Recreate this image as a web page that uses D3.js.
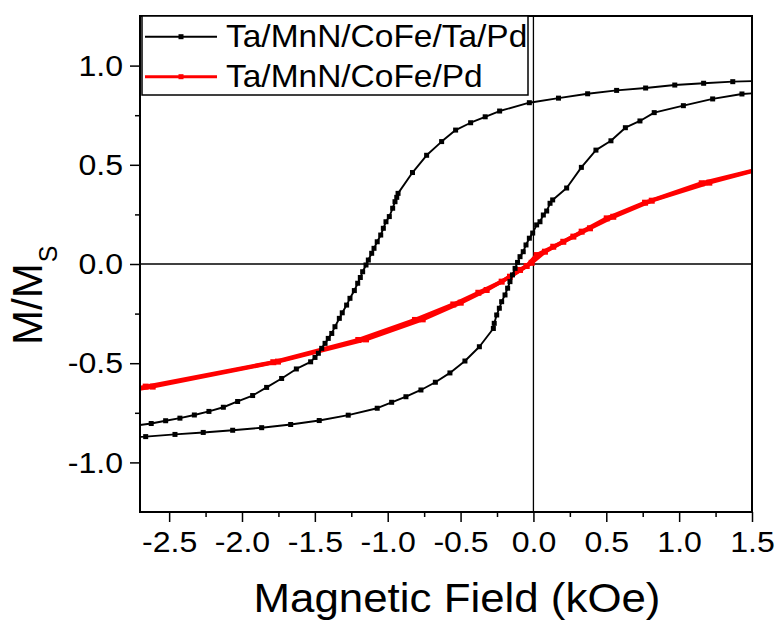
<!DOCTYPE html>
<html><head>
<meta charset="utf-8">
<title>M/Ms loops</title>
<script src="https://d3js.org/d3.v7.min.js"></script>
<style>
  body { margin: 0; background: #fff; }
  svg text { font-family: "Liberation Sans", Arial, sans-serif; fill: #000; }
  .axis .domain { display: none; }
  .axis line { stroke: #000; stroke-width: 1.5px; }
</style>
</head>
<body>
<svg id="chart" width="776" height="620"></svg>
<script>

// hysteresis data, [field (kOe), M/Ms]
// black sample: descending branch (upper) and ascending branch (lower)
const upperBranch = [
  [1.57, 0.923], [1.368, 0.919], [1.168, 0.911], [0.970, 0.902], [0.770, 0.887],
  [0.571, 0.875], [0.372, 0.858], [0.172, 0.836], [-0.028, 0.813], [-0.232, 0.771],
  [-0.331, 0.742], [-0.431, 0.712], [-0.534, 0.675], [-0.630, 0.617], [-0.733, 0.548],
  [-0.830, 0.461], [-0.929, 0.356], [-0.938, 0.336], [-0.950, 0.314], [-0.966, 0.281],
  [-0.989, 0.239], [-1.012, 0.213], [-1.030, 0.180], [-1.048, 0.146], [-1.072, 0.112],
  [-1.094, 0.079], [-1.110, 0.054], [-1.133, 0.020], [-1.149, -0.005], [-1.172, -0.039],
  [-1.188, -0.068], [-1.206, -0.097], [-1.229, -0.134], [-1.259, -0.173], [-1.282, -0.207],
  [-1.312, -0.246], [-1.332, -0.274], [-1.362, -0.316], [-1.384, -0.350], [-1.408, -0.375],
  [-1.430, -0.400], [-1.453, -0.425], [-1.476, -0.450], [-1.499, -0.471], [-1.529, -0.493],
  [-1.627, -0.529], [-1.728, -0.577], [-1.831, -0.622], [-1.927, -0.663], [-2.030, -0.693],
  [-2.128, -0.722], [-2.227, -0.743], [-2.327, -0.761], [-2.426, -0.777], [-2.524, -0.790],
  [-2.623, -0.804], [-2.722, -0.814]
];
const lowerBranch = [
  [-2.86, -0.876], [-2.661, -0.870], [-2.460, -0.859], [-2.266, -0.849], [-2.064, -0.838],
  [-1.865, -0.825], [-1.666, -0.809], [-1.470, -0.789], [-1.271, -0.762], [-1.072, -0.727],
  [-0.973, -0.697], [-0.875, -0.669], [-0.772, -0.635], [-0.673, -0.596], [-0.573, -0.549],
  [-0.470, -0.489], [-0.371, -0.417], [-0.275, -0.325], [-0.269, -0.299], [-0.252, -0.257],
  [-0.234, -0.223], [-0.218, -0.190], [-0.195, -0.156], [-0.177, -0.122], [-0.161, -0.089],
  [-0.144, -0.055], [-0.126, -0.022], [-0.109, 0.008], [-0.092, 0.037], [-0.070, 0.062],
  [-0.051, 0.096], [-0.028, 0.130], [-0.005, 0.156], [0.022, 0.197], [0.045, 0.213],
  [0.068, 0.247], [0.091, 0.267], [0.114, 0.306], [0.132, 0.323], [0.228, 0.383],
  [0.329, 0.487], [0.429, 0.574], [0.532, 0.621], [0.631, 0.687], [0.731, 0.721],
  [0.829, 0.763], [1.029, 0.798], [1.230, 0.832], [1.431, 0.857], [1.63, 0.866]
];
// red sample: the two branches almost sit on top of each other
const redBranchA = [
  [-2.80, -0.640], [-2.661, -0.618], [-1.785, -0.495], [-1.202, -0.383], [-0.813, -0.282],
  [-0.550, -0.204], [-0.378, -0.145], [-0.218, -0.089], [-0.092, -0.030], [-0.012, 0.006],
  [0.079, 0.062], [0.205, 0.112], [0.331, 0.163], [0.503, 0.230], [0.766, 0.309],
  [1.155, 0.407], [1.65, 0.497]
];
const redBranchB = [
  [-2.80, -0.640], [-2.613, -0.618], [-1.753, -0.492], [-1.149, -0.380], [-0.760, -0.279],
  [-0.499, -0.195], [-0.321, -0.131], [-0.161, -0.064], [-0.046, -0.010], [0.022, 0.045],
  [0.136, 0.087], [0.274, 0.138], [0.388, 0.180], [0.548, 0.238], [0.812, 0.319],
  [1.207, 0.410], [1.65, 0.497]
];

const legendLabels = ["Ta/MnN/CoFe/Ta/Pd", "Ta/MnN/CoFe/Pd"];
const xTickValues = [-2.5, -2.0, -1.5, -1.0, -0.5, 0.0, 0.5, 1.0, 1.5];
const xTickLabels = ["-2.5", "-2.0", "-1.5", "-1.0", "-0.5", "0.0", "0.5", "1.0", "1.5"];
const xMinorTicks = [-2.25, -1.75, -1.25, -0.75, -0.25, 0.25, 0.75, 1.25];
const yTickValues = [-1.0, -0.5, 0.0, 0.5, 1.0];
const yTickLabels = ["-1.0", "-0.5", "0.0", "0.5", "1.0"];
const yMinorTicks = [-0.75, -0.25, 0.25, 0.75];

// 0. svg + margins
const svg = d3.select("svg#chart");
const margins = {top: 16, right: 24, bottom: 108, left: 140};
const chartWidth = 776 - margins.left - margins.right;   // 612
const chartHeight = 620 - margins.top - margins.bottom;  // 496

// the original picture is a little wider than plain Arial, stretch text a bit
const stretch = 1.07;

// 1. scales
const xScale = d3.scaleLinear().domain([-2.7, 1.5]).range([0, chartWidth]);
const yScale = d3.scaleLinear().domain([-1.25, 1.25]).range([chartHeight, 0]);

const plot = svg.append("g")
  .attr("transform", "translate(" + margins.left + "," + margins.top + ")");

plot.append("clipPath").attr("id", "plotClip")
  .append("rect").attr("width", chartWidth).attr("height", chartHeight);

// 2. zero lines
plot.append("line")
  .attr("x1", 0).attr("x2", chartWidth)
  .attr("y1", yScale(0)).attr("y2", yScale(0))
  .attr("stroke", "#000").attr("stroke-width", 1.3);
plot.append("line")
  .attr("x1", xScale(0)).attr("x2", xScale(0))
  .attr("y1", 0).attr("y2", chartHeight)
  .attr("stroke", "#000").attr("stroke-width", 1.3);

// 3. curves
const line = d3.line().x(d => xScale(d[0])).y(d => yScale(d[1]));
const curves = plot.append("g").attr("clip-path", "url(#plotClip)");

function drawSeries(data, color, width, size) {
  curves.append("path")
    .datum(data)
    .attr("d", line)
    .attr("fill", "none")
    .attr("stroke", color)
    .attr("stroke-width", width)
    .attr("stroke-linejoin", "round");
  curves.append("g").selectAll("rect")
    .data(data)
    .join("rect")
    .attr("x", d => xScale(d[0]) - size / 2)
    .attr("y", d => yScale(d[1]) - size / 2)
    .attr("width", size)
    .attr("height", size)
    .attr("fill", color);
}

drawSeries(redBranchA, "#ff0000", 4, 6);
drawSeries(redBranchB, "#ff0000", 4, 6);
drawSeries(upperBranch, "#000", 1.9, 5);
drawSeries(lowerBranch, "#000", 1.9, 5);

// 4. axes (ticks point outward)
const bottomAxis = d3.axisBottom(xScale)
  .tickValues(xTickValues)
  .tickSize(10)
  .tickPadding(9)
  .tickFormat((d, i) => xTickLabels[i]);
plot.append("g").attr("class", "x axis")
  .attr("transform", "translate(0," + chartHeight + ")")
  .call(bottomAxis)
  .selectAll("text")
    .style("font-size", "30px")
    .attr("transform", "scale(" + stretch + ",1)");

plot.append("g").attr("class", "x axis")
  .attr("transform", "translate(0," + chartHeight + ")")
  .call(d3.axisBottom(xScale).tickValues(xMinorTicks).tickSize(5).tickFormat(""));

const leftAxis = d3.axisLeft(yScale)
  .tickValues(yTickValues)
  .tickSize(10)
  .tickPadding(7)
  .tickFormat((d, i) => yTickLabels[i]);
plot.append("g").attr("class", "y axis")
  .call(leftAxis)
  .selectAll("text")
    .style("font-size", "30px")
    .attr("x", -17 / stretch)
    .attr("transform", "scale(" + stretch + ",1)");

plot.append("g").attr("class", "y axis")
  .call(d3.axisLeft(yScale).tickValues(yMinorTicks).tickSize(5).tickFormat(""));

// frame
plot.append("rect")
  .attr("width", chartWidth).attr("height", chartHeight)
  .attr("fill", "none").attr("stroke", "#000").attr("stroke-width", 2);

// 5. legend box in the top-left corner
const legend = plot.append("g").attr("transform", "translate(2,0)");
legend.append("rect")
  .attr("width", 386).attr("height", 79)
  .attr("fill", "#fff").attr("stroke", "#000").attr("stroke-width", 1.5);

const legendColors = ["#000", "#ff0000"];
const legendWidths = [2, 3];
legendLabels.forEach((label, i) => {
  const ly = 20.7 + i * 40;
  legend.append("line")
    .attr("x1", 3).attr("x2", 75)
    .attr("y1", ly).attr("y2", ly)
    .attr("stroke", legendColors[i]).attr("stroke-width", legendWidths[i]);
  legend.append("rect")
    .attr("x", 39 - 2.5).attr("y", ly - 2.5)
    .attr("width", 5).attr("height", 5)
    .attr("fill", legendColors[i]);
  legend.append("text")
    .attr("transform", "translate(84," + (ly + 10.3) + ") scale(1.08,1)")
    .style("font-size", "31px")
    .text(label);
});

// 6. axis titles
svg.append("text")
  .attr("transform", "translate(457,611.5) scale(" + stretch + ",1)")
  .attr("text-anchor", "middle")
  .style("font-size", "41px")
  .text("Magnetic Field (kOe)");

const yTitle = svg.append("text")
  .attr("transform", "translate(41.5,345) rotate(-90)")
  .style("font-size", "42px");
yTitle.append("tspan").text("M/M");
yTitle.append("tspan")
  .attr("dy", 15).attr("dx", 1)
  .style("font-size", "25px")
  .text("S");

</script>
</body>
</html>
